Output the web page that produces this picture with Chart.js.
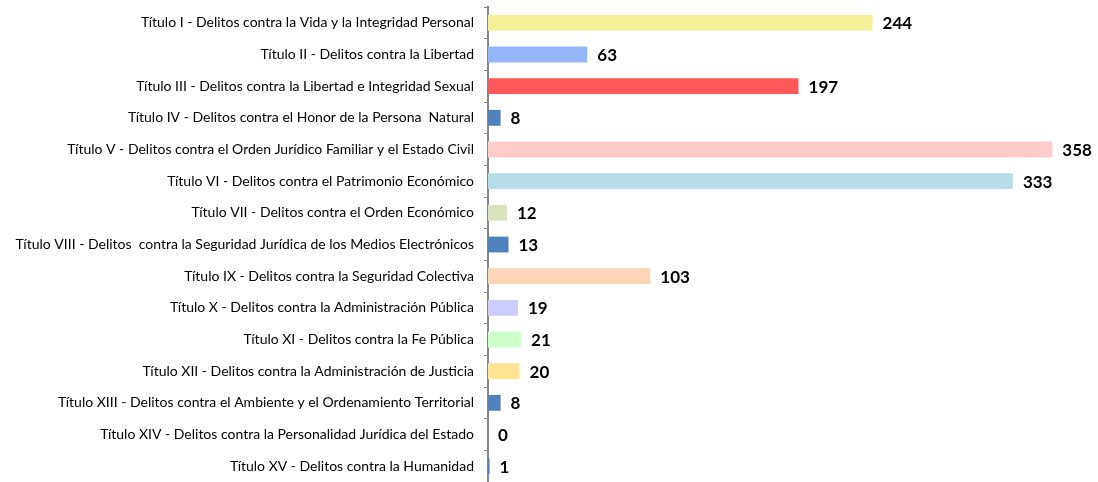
<!DOCTYPE html>
<html>
<head>
<meta charset="utf-8">
<script src="https://cdn.jsdelivr.net/npm/chart.js@4.4.1/dist/chart.umd.min.js"></script>
<style>
    html, body { margin: 0; padding: 0; background: #fff; }
    #wrap { width: 1098px; height: 482px; }
</style>
</head>
<body>
<div id="wrap"><canvas id="delitos"></canvas></div>
<script>
const categories = [
    "Título I - Delitos contra la Vida y la Integridad Personal",
    "Título II - Delitos contra la Libertad",
    "Título III - Delitos contra la Libertad e Integridad Sexual",
    "Título IV - Delitos contra el Honor de la Persona  Natural",
    "Título V - Delitos contra el Orden Jurídico Familiar y el Estado Civil",
    "Título VI - Delitos contra el Patrimonio Económico",
    "Título VII - Delitos contra el Orden Económico",
    "Título VIII - Delitos  contra la Seguridad Jurídica de los Medios Electrónicos",
    "Título IX - Delitos contra la Seguridad Colectiva",
    "Título X - Delitos contra la Administración Pública",
    "Título XI - Delitos contra la Fe Pública",
    "Título XII - Delitos contra la Administración de Justicia",
    "Título XIII - Delitos contra el Ambiente y el Ordenamiento Territorial",
    "Título XIV - Delitos contra la Personalidad Jurídica del Estado",
    "Título XV - Delitos contra la Humanidad",
];

const casos = [244, 63, 197, 8, 358, 333, 12, 13, 103, 19, 21, 20, 8, 0, 1];

const barColors = [
    "#F5F29A",
    "#94B6FA",
    "#FF5858",
    "#4F81BD",
    "#FFCCCC",
    "#B7DDE8",
    "#D7E4BD",
    "#4F81BD",
    "#FBD5B5",
    "#CCCCFF",
    "#CCFFCC",
    "#FFE494",
    "#4F81BD",
    "#4F81BD",
    "#4F81BD",
];

// draws the bold numbers to the right of each bar
const valueLabels = {
    id: "valueLabels",
    afterDatasetsDraw(chart) {
        const ctx = chart.ctx;
        const meta = chart.getDatasetMeta(0);
        ctx.save();
        ctx.font = "bold 17px Lato";
        ctx.fillStyle = "#000";
        ctx.textAlign = "left";
        ctx.textBaseline = "middle";
        meta.data.forEach((bar, i) => {
            ctx.fillText(String(casos[i]), bar.x + 10, bar.y + 1);
        });
        ctx.restore();
    },
};

new Chart(document.querySelector("#delitos"), {
    type: "bar",
    data: {
        labels: categories,
        datasets: [
            {
                data: casos,
                backgroundColor: barColors,
                categoryPercentage: 1,
                barPercentage: 0.5,
            },
        ],
    },
    options: {
        indexAxis: "y",
        responsive: true,
        maintainAspectRatio: false,
        animation: false,
        layout: { padding: { top: 7, bottom: 0, right: 0 } },
        plugins: {
            legend: { display: false },
            tooltip: { enabled: false },
        },
        scales: {
            x: {
                display: false,
                min: 0,
                max: 387,
            },
            y: {
                afterFit: (scale) => {
                    scale.width = 488;
                    scale.paddingTop = 0;
                    scale.paddingBottom = 0;
                },
                border: { display: true, color: "#868686", width: 2 },
                grid: {
                    offset: true,
                    drawOnChartArea: false,
                    color: "#868686",
                    tickLength: 4,
                },
                ticks: {
                    color: "#000",
                    padding: 10,
                    font: { family: "Lato", size: 14 },
                },
            },
        },
    },
    plugins: [valueLabels],
});
</script>
</body>
</html>
